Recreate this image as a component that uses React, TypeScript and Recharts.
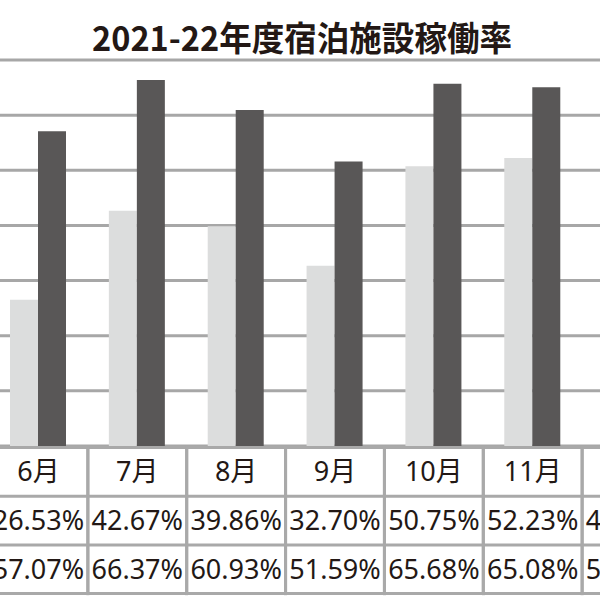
import React from 'react';
import { BarChart, Bar, XAxis, YAxis, CartesianGrid } from 'recharts';

const title = '2021-22年度宿泊施設稼働率';
const months = ['6月', '7月', '8月', '9月', '10月', '11月', '12月'];
const rate2021 = [26.53, 42.67, 39.86, 32.7, 50.75, 52.23, 46.12];
const rate2022 = [57.07, 66.37, 60.93, 51.59, 65.68, 65.08, 55.84];
const yTicks = [0, 10, 20, 30, 40, 50, 60, 70];

const data = months.map((m, i) => ({ month: m, r2021: rate2021[i], r2022: rate2022[i] }));

const CHART_LEFT = -11;
const CHART_W = 692;
const CHART_H = 600;
const TOP = 60;
const AXIS_H = 154;
const BAND = CHART_W / months.length;
const TABLE_TOP = CHART_H - AXIS_H;
const ROW_H = 48.7;
const LINE = '#a9a9a9';
const INK = '#231815';

const fmt = (v: number) => v.toFixed(2) + '%';

const TableTick = (props: any) => {
  const { x, index } = props;
  const left = x - BAND / 2;
  const right = x + BAND / 2;
  const rows = [months[index], fmt(rate2021[index]), fmt(rate2022[index])];
  const bottom = TABLE_TOP + ROW_H * 3;
  return (
    <g>
      {[0, 1, 2, 3].map((r) => (
        <line key={'h' + r} x1={left} x2={right} y1={TABLE_TOP + 1.5 + r * ROW_H} y2={TABLE_TOP + 1.5 + r * ROW_H} stroke={LINE} strokeWidth={3} />
      ))}
      <line x1={left} x2={left} y1={TABLE_TOP} y2={bottom + 3} stroke={LINE} strokeWidth={3} />
      <line x1={right} x2={right} y1={TABLE_TOP} y2={bottom + 3} stroke={LINE} strokeWidth={3} />
      {rows.map((t, r) => (
        <text
          key={'t' + r}
          x={x}
          y={TABLE_TOP + 1.5 + r * ROW_H + ROW_H / 2 + 9.5}
          textAnchor="middle"
          fill={INK}
          fontSize={r === 0 ? 27 : 27}
          fontFamily="'Noto Sans', 'Noto Sans CJK JP', sans-serif"
        >
          {t}
        </text>
      ))}
    </g>
  );
};

export default function App() {
  return (
    <div style={{ position: 'absolute', left: 0, top: 0, width: 600, height: 600, overflow: 'hidden', background: '#ffffff' }}>
      <div style={{ position: 'absolute', left: CHART_LEFT, top: 0 }}>
        <BarChart
          width={CHART_W}
          height={CHART_H}
          data={data}
          margin={{ top: TOP, right: 0, bottom: 0, left: 0 }}
          barCategoryGap={21}
          barGap={0}
        >
          <CartesianGrid vertical={false} stroke="#a7a7a7" strokeWidth={3} />
          <XAxis
            dataKey="month"
            height={AXIS_H}
            axisLine={false}
            tickLine={false}
            interval={0}
            tick={<TableTick />}
          />
          <YAxis hide domain={[0, 70]} ticks={yTicks} />
          <Bar dataKey="r2021" fill="#dcdddd" isAnimationActive={false} />
          <Bar dataKey="r2022" fill="#595757" isAnimationActive={false} />
        </BarChart>
      </div>
      <svg width={600} height={60} style={{ position: 'absolute', left: 0, top: 0 }}>
        <text
          x={302}
          y={51}
          textAnchor="middle"
          fill={INK}
          fontSize={34}
          fontWeight={700}
          fontFamily="'Noto Sans CJK JP', sans-serif"
          textLength={420}
          lengthAdjust="spacingAndGlyphs"
        >
          {title}
        </text>
      </svg>
    </div>
  );
}
